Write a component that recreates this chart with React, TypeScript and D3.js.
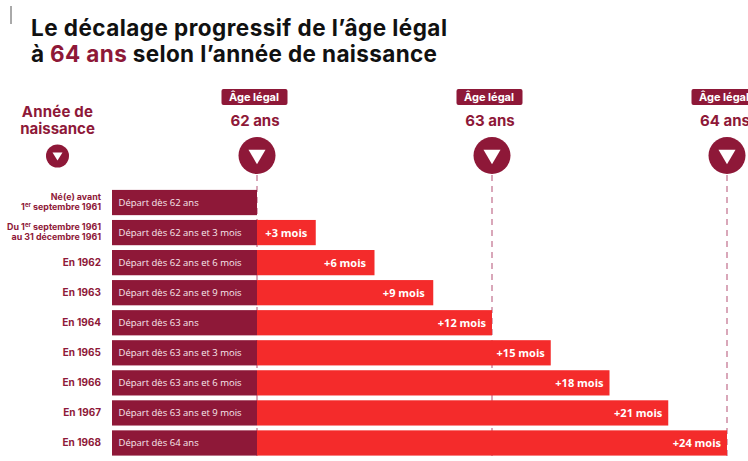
import React from "react";
import { scaleBand, scaleLinear } from "d3";

const W = 748;
const H = 461;
const DARK = "#8e1838";
const RED = "#f42b2b";
const DASH = "#cd8aa2";
const HEAD = "Inter, sans-serif";
const BODY = "'Open Sans', sans-serif";

const rowIds = ["a", "b", "1962", "1963", "1964", "1965", "1966", "1967", "1968"];
const extraMonths = [0, 3, 6, 9, 12, 15, 18, 21, 24];
const departLabels = [
  "Départ dès 62 ans",
  "Départ dès 62 ans et 3 mois",
  "Départ dès 62 ans et 6 mois",
  "Départ dès 62 ans et 9 mois",
  "Départ dès 63 ans",
  "Départ dès 63 ans et 3 mois",
  "Départ dès 63 ans et 6 mois",
  "Départ dès 63 ans et 9 mois",
  "Départ dès 64 ans",
];
const yearLabels = ["", "", "En 1962", "En 1963", "En 1964", "En 1965", "En 1966", "En 1967", "En 1968"];
const ageMonths = [0, 12, 24];
const ageLabels = ["62 ans", "63 ans", "64 ans"];

const x = scaleLinear().domain([0, 24]).range([257, 727]);
const y = scaleBand<string>().domain(rowIds).range([187.5, 458]).paddingInner(0.16).paddingOuter(0.08);

const Triangle = ({ cx, cy, w, h }: { cx: number; cy: number; w: number; h: number }) => (
  <path d={`M${cx - w / 2},${cy - h / 2}L${cx + w / 2},${cy - h / 2}L${cx},${cy + h / 2}Z`} fill="#fff" />
);

const Er = () => (
  <>
    1<tspan fontSize={6} dy={-3}>er</tspan>
    <tspan dy={3}> </tspan>
  </>
);

export default function App() {
  const labelProps = { x: 101, textAnchor: "end" as const, fontFamily: HEAD, fontWeight: 700, fill: DARK };
  const y0 = y("a")! + y.bandwidth() / 2;
  const y1 = y("b")! + y.bandwidth() / 2;

  return (
    <svg width={W} height={H} style={{ position: "absolute", left: 0, top: 0, background: "#fff" }}>
      <line x1={11} x2={11} y1={6} y2={24} stroke="#555" strokeWidth={1} />

      <g fontFamily={HEAD} fontWeight={700} fontSize={22.5} fill="#111">
        <text x={31} y={36} textLength={416} lengthAdjust="spacing">Le décalage progressif de l’âge légal</text>
        <text x={31} y={62} textLength={406} lengthAdjust="spacing">
          à <tspan fill={DARK}>64 ans</tspan> selon l’année de naissance
        </text>
      </g>

      <text fontFamily={HEAD} fontWeight={700} fontSize={15} fill={DARK} textAnchor="middle">
        <tspan x={57.5} y={117} letterSpacing={0.2}>Année de</tspan>
        <tspan x={57.5} y={134}>naissance</tspan>
      </text>
      <circle cx={57.5} cy={156} r={11.5} fill={DARK} />
      <Triangle cx={57.5} cy={156.5} w={10} h={8} />

      {ageMonths.map((m) => (
        <line key={m} x1={x(m)} x2={x(m)} y1={175} y2={H} stroke={DASH} strokeWidth={1.5} strokeDasharray="6 5" />
      ))}

      {ageMonths.map((m, i) => (
        <g key={m}>
          <rect x={x(m) - 35.5} y={89} width={66} height={16} rx={2} fill={DARK} />
          <text x={x(m) - 3} y={101} textAnchor="middle" fontFamily={HEAD} fontWeight={700} fontSize={11} fill="#fff">
            Âge légal
          </text>
          <text x={x(m) - 2} y={126} textAnchor="middle" fontFamily={HEAD} fontWeight={700} fontSize={15} fill={DARK}>
            {ageLabels[i]}
          </text>
          <circle cx={x(m)} cy={155.5} r={18.5} fill={DARK} />
          <Triangle cx={x(m)} cy={157} w={17} h={14.5} />
        </g>
      ))}

      <g fontSize={8.9} {...labelProps}>
        <text x={101} y={y0 - 2.5}>Né(e) avant</text>
        <text x={101} y={y0 + 7.5}><Er />septembre 1961</text>
        <text x={101} y={y1 - 2.5}>Du <Er />septembre 1961</text>
        <text x={101} y={y1 + 7.5}>au 31 décembre 1961</text>
      </g>

      {rowIds.map((id, i) => {
        const top = y(id)!;
        const bh = y.bandwidth();
        const mid = top + bh / 2;
        const m = extraMonths[i];
        return (
          <g key={id}>
            {yearLabels[i] && (
              <text y={mid + 3.5} fontSize={10} {...labelProps}>{yearLabels[i]}</text>
            )}
            <rect x={112} y={top} width={x(0) - 112} height={bh} fill={DARK} />
            <text x={118.5} y={mid + 3.5} fontFamily={BODY} fontSize={9.5} fill="#f7e9ed">
              {departLabels[i]}
            </text>
            {m > 0 && <rect x={x(0)} y={top} width={x(m) - x(0)} height={bh} fill={RED} />}
            {m > 0 && (
              <text x={x(m) - (m < 12 ? 8.5 : 6)} y={mid + 4} textAnchor="end" fontFamily={BODY} fontWeight={700} fontSize={11} fill="#fff">
                +{m} mois
              </text>
            )}
          </g>
        );
      })}
    </svg>
  );
}
